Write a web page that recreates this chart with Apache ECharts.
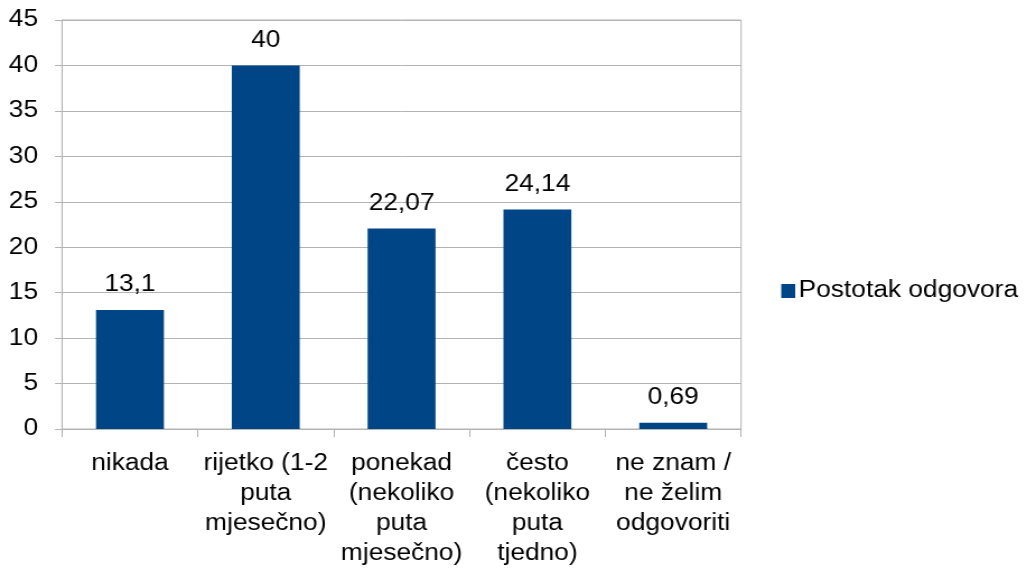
<!DOCTYPE html>
<html>
<head>
<meta charset="utf-8">
<script src="https://cdn.jsdelivr.net/npm/echarts@6/dist/echarts.min.js"></script>
<style>
html, body { margin: 0; padding: 0; background: #fff; overflow: hidden; }
/* reference text looks a bit wider than tall, so draw narrower and stretch */
#chart { width: 918px; height: 569px; transform: scaleX(1.12); transform-origin: 0 0; }
</style>
</head>
<body>
<div id="chart"></div>
<script>
// categories and values
var categories = [
    'nikada',
    'rijetko (1-2\nputa\nmjesečno)',
    'ponekad\n(nekoliko\nputa\nmjesečno)',
    'često\n(nekoliko\nputa\ntjedno)',
    'ne znam /\nne želim\nodgovoriti'
];
var values = [13.1, 40, 22.07, 24.14, 0.69];
var seriesName = 'Postotak odgovora';

var font = '"Liberation Sans", Arial, sans-serif';
var gray = '#b3b3b3';
var fs = 23.5;

var chart = echarts.init(document.getElementById('chart'));
chart.setOption({
    animation: false,
    textStyle: { fontFamily: font },
    grid: {
        left: 55.4, right: 256.3, top: 20, bottom: 138,
        show: true, borderColor: gray, borderWidth: 1
    },
    legend: {
        right: 4, top: 274,
        itemWidth: 12.5, itemHeight: 14, itemGap: 6,
        icon: 'rect',
        textStyle: { fontSize: fs, color: '#000', fontFamily: font, padding: [0, 0, 0, -2] },
        data: [seriesName]
    },
    xAxis: {
        type: 'category',
        data: categories,
        axisLine: { lineStyle: { color: gray } },
        axisTick: { show: true, length: 8, lineStyle: { color: gray } },
        axisLabel: {
            color: '#000', fontSize: fs, fontFamily: font,
            margin: 20, lineHeight: 30, interval: 0
        }
    },
    yAxis: {
        type: 'value',
        min: 0, max: 45, interval: 5,
        axisLine: { show: true, lineStyle: { color: gray } },
        axisTick: { show: true, length: 6.25, lineStyle: { color: gray } },
        splitLine: { lineStyle: { color: gray } },
        axisLabel: { color: '#000', fontSize: fs, fontFamily: font, margin: 21.4 }
    },
    series: [{
        name: seriesName,
        type: 'bar',
        data: values,
        barWidth: '50%',
        itemStyle: { color: '#004586' },
        label: {
            show: true, position: 'top', distance: 13,
            color: '#000', fontSize: fs, fontFamily: font,
            formatter: function (p) { return String(p.value).replace('.', ','); }
        }
    }]
});
</script>
</body>
</html>
